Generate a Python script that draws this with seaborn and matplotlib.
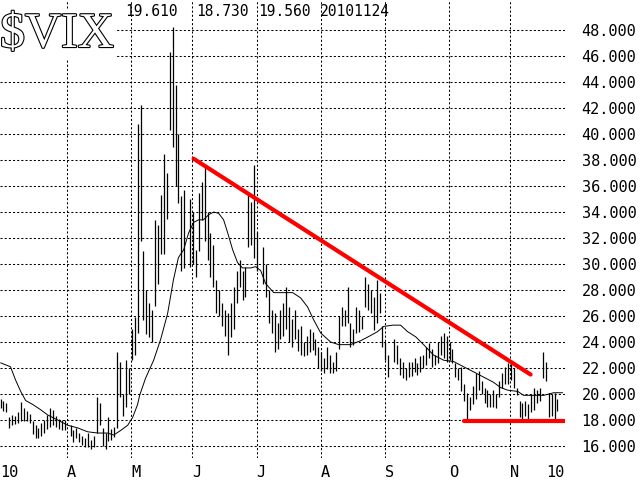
import matplotlib
matplotlib.use("Agg")
import matplotlib.pyplot as plt
import matplotlib.patheffects as pe
import numpy as np
import seaborn as sns

# daily VIX bars, one entry per weekday from 2 Mar 2010 to 24 Nov 2010 (None = market holiday)
high = [
    # Mar
    19.6, 19.5, 19.3, 18.2, 18.4, 18.3, 18.6, 19.4, 18.9, 18.7, 18.5,
    17.9, 17.6, 17.4, 17.8, 18.0, 18.4, 18.9, 18.8, 18.3, 18.1, 18.0,
    # Apr
    18.0, None, 17.6, 17.2, 17.4, 17.0, 16.8, 16.6, 17.0, 16.5, 16.8,
    19.8, 19.3, 17.4, 17.0, 18.2, 17.3, 17.5, 23.2, 22.5, 20.0, 22.6,
    # May
    22.0, 25.0, 25.9, 40.8, 42.2, 31.0, 28.0, 27.0, 26.5, 33.4, 33.0,
    35.3, 38.5, 37.0, 46.3, 48.2, 43.8, 40.0, 35.2, 35.7, None,
    # Jun
    35.0, 34.0, 31.1, 35.5, 36.3, 37.5, 34.0, 32.4, 31.5, 28.8, 28.0,
    27.0, 26.5, 26.2, 27.0, 28.2, 29.5, 30.3, 29.5, 29.8, 35.3, 34.8,
    # Jul
    37.6, 32.5, None, 31.3, 30.0, 28.0, 26.5, 26.2, 25.5, 26.5, 27.0,
    28.2, 26.7, 25.8, 26.5, 25.0, 25.2, 24.0, 24.5, 25.0, 24.8, 24.2,
    # Aug
    23.6, 23.2, 22.8, 23.6, 23.0, 22.5, 23.2, 26.0, 26.7, 26.5, 28.2,
    25.5, 25.0, 26.7, 26.5, 26.0, 29.0, 28.5, 28.0, 27.5, 28.8, 27.8,
    # Sep
    25.2, 24.0, 23.0, None, 24.2, 23.8, 22.8, 22.5, 22.0, 22.5, 22.5,
    22.8, 22.4, 22.9, 23.0, 23.6, 23.9, 23.5, 23.0, 24.0, 24.5, 24.7,
    # Oct
    24.5, 24.0, 23.5, 22.4, 22.0, 22.1, 20.8, 20.1, 19.8, 20.6, 21.6,
    21.8, 21.0, 20.5, 20.3, 20.0, 20.3, 20.0, 21.0, 21.6, 22.1,
    # Nov
    22.4, 22.6, 22.0, 20.5, 19.5, 19.3, 19.5, 19.2, 20.0, 20.5, 20.3,
    20.5, 23.2, 22.5, 20.1, 20.0, 20.1, 19.61,
]
low = [
    # Mar
    18.9, 18.7, 18.6, 17.4, 17.6, 17.7, 17.8, 17.9, 17.9, 17.9, 17.8,
    16.9, 16.6, 16.6, 16.8, 17.0, 17.3, 17.5, 17.6, 17.5, 17.3, 17.2,
    # Apr
    17.2, None, 16.8, 16.3, 16.6, 16.3, 16.1, 15.9, 15.9, 15.8, 15.9,
    17.0, 17.6, 16.0, 15.8, 16.4, 16.5, 16.7, 17.4, 19.8, 18.3, 19.0,
    # May
    20.0, 22.6, 23.0, 24.7, 31.8, 25.7, 24.6, 24.4, 24.0, 26.8, 28.5,
    30.8, 30.8, 33.5, 40.3, 39.0, 36.0, 34.7, 29.5, 29.7, None,
    # Jun
    29.8, 30.0, 29.0, 31.0, 33.4, 31.8, 30.3, 29.0, 28.2, 26.2, 26.0,
    25.2, 24.5, 23.0, 24.4, 25.0, 27.0, 28.2, 27.2, 27.5, 31.3, 31.5,
    # Jul
    30.5, 29.5, None, 28.5, 27.5, 25.5, 24.7, 23.2, 23.5, 24.2, 24.5,
    25.0, 24.0, 23.6, 24.2, 23.3, 23.0, 22.9, 23.0, 23.2, 23.4, 23.0,
    # Aug
    22.0, 21.8, 21.6, 21.9, 21.6, 21.6, 21.8, 23.5, 25.2, 25.2, 25.5,
    23.6, 23.8, 24.7, 24.8, 25.0, 26.7, 26.5, 26.2, 24.9, 25.5, 26.2,
    # Sep
    23.6, 22.6, 21.3, None, 22.5, 22.3, 21.5, 21.2, 21.1, 21.3, 21.4,
    21.7, 21.5, 21.7, 22.0, 22.2, 22.8, 22.1, 22.2, 22.4, 23.0, 22.8,
    # Oct
    22.5, 22.6, 22.4, 21.3, 21.1, 20.2, 19.5, 18.0, 18.8, 19.2, 19.6,
    20.3, 20.0, 19.3, 19.0, 19.0, 19.0, 18.9, 19.8, 20.5, 20.8,
    # Nov
    20.8, 21.1, 20.5, 19.9, 18.2, 18.0, 18.3, 18.1, 18.6, 18.8, 19.3,
    19.5, 21.2, 21.0, 18.2, 18.3, 18.0, 18.73,
]
last_close = 19.56
last_date = "20101124"

# moving average (day index, value)
ma_day = [0, 3.4, 5.1, 6.9, 8.6, 11, 13.7, 16.1, 19.6, 23, 26.4, 29.8, 33.3, 36.7,
          38.8, 41.2, 43.6, 45.3, 47, 47.7, 49.7, 52.5, 54.9, 57.3, 59.3, 61, 62.8,
          64.5, 66.2, 67.9, 69.6, 71.4, 73.1, 74.8, 76.5, 77.9, 79.6, 81.3, 83,
          85.8, 87.5, 89.2, 90.9, 93.7, 97.1, 100.2, 102.9, 105.3, 107.4, 109.8,
          113.2, 116, 120, 123.5, 126.9, 129.3, 131.4, 134.5, 137.2, 139.6, 142.4,
          145.1, 148.5, 152, 155.4, 158.8, 162.3, 165.7, 169.1, 171.5, 173.9,
          177.4, 179.4, 182.8, 186.3, 189.7, 192.8]
ma_val = [22.4, 22.1, 21.1, 20.2, 19.5, 19.2, 18.8, 18.4, 18.0, 17.6, 17.4, 17.1, 17.0,
          17.0, 16.85, 17.2, 17.6, 18.2, 19.2, 19.9, 21.2, 22.6, 24.2, 26.2, 28.8,
          30.5, 31.1, 32.4, 33.2, 33.4, 33.4, 33.8, 34.0, 33.9, 33.4, 32.4, 31.1,
          30.1, 29.7, 29.7, 29.8, 29.5, 28.5, 27.8, 27.8, 27.8, 27.4, 26.7, 25.7,
          24.7, 24.0, 23.8, 23.8, 24.1, 24.5, 24.8, 25.2, 25.3, 25.3, 24.8, 24.4,
          23.8, 23.0, 22.6, 22.5, 22.1, 21.7, 21.3, 20.9, 20.5, 20.3, 20.2, 19.9,
          19.9, 19.9, 20.1, 20.1]

# hand-drawn red lines
trend_day = [66.2, 181.8]
trend_val = [38.1, 21.5]
support_day = [158.8, 193.8]
support_val = [17.95, 17.95]

month_start = [22, 44, 65, 87, 109, 131, 153, 174]
month_names = ["A", "M", "J", "J", "A", "S", "O", "N"]
y_ticks = list(range(16, 49, 2))

sns.set_theme(style="white")
plt.rcParams["font.family"] = ["DejaVu Sans Mono", "DejaVu Sans"]

fig = plt.figure(figsize=(6.4, 4.8), dpi=100)
fig.patch.set_facecolor("white")
ax = fig.add_axes([0, 22 / 480, 565 / 640, 458 / 480])
ax.set_facecolor("white")

dots = (0, (2, 2))
for v in y_ticks:
    ax.axhline(v, color="black", lw=0.75, ls=dots, zorder=1)
grid_x = [m + 0.8 for m in month_start]
for gx in grid_x:
    ax.axvline(gx, color="black", lw=0.75, ls=dots, zorder=1)

hi = np.array([np.nan if v is None else v for v in high])
lo = np.array([np.nan if v is None else v for v in low])
days = np.arange(len(hi))
ok = ~np.isnan(hi)
ax.vlines(days[ok], lo[ok], hi[ok], color="black", lw=0.9, zorder=3)

sns.lineplot(x=ma_day, y=ma_val, color="black", lw=0.7, ax=ax, zorder=2)
sns.lineplot(x=trend_day, y=trend_val, color="#ff0000", lw=3.0, ax=ax, zorder=4)
sns.lineplot(x=support_day, y=support_val, color="#ff0000", lw=3.0, ax=ax, zorder=4)

ax.set_xlim(-0.2, 193.6)
ax.set_ylim(15.08, 50.31)

ax.yaxis.tick_right()
ax.set_yticks(y_ticks)
ax.set_yticklabels([f"{v:.3f}" for v in y_ticks])
ax.tick_params(axis="y", length=0, pad=12, labelsize=11, colors="black")

ax.set_xticks([0] + grid_x + [187])
ax.set_xticklabels(["10"] + month_names + ["10"], ha="left")
ax.tick_params(axis="x", length=0, pad=5, labelsize=11, colors="black")
ax.set_xlabel("")
ax.set_ylabel("")
for s in ax.spines.values():
    s.set_visible(False)

fig.text(0.0, 1 - 47 / 480, "$VIX", family="Liberation Serif", fontsize=36,
         color="white", ha="left", va="baseline", parse_math=False,
         path_effects=[pe.withStroke(linewidth=1.6, foreground="black")],
         bbox=dict(facecolor="white", edgecolor="none", pad=1))

header = [f"{high[-1]:.3f}", f"{low[-1]:.3f}", f"{last_close:.3f}", last_date]
for hx, txt in zip([125, 196, 258, 320], header):
    fig.text(hx / 640, 1 - 11 / 480, txt, fontsize=10.5, color="black",
             ha="left", va="center")

fig.savefig("out.png", dpi=100, facecolor="white")
